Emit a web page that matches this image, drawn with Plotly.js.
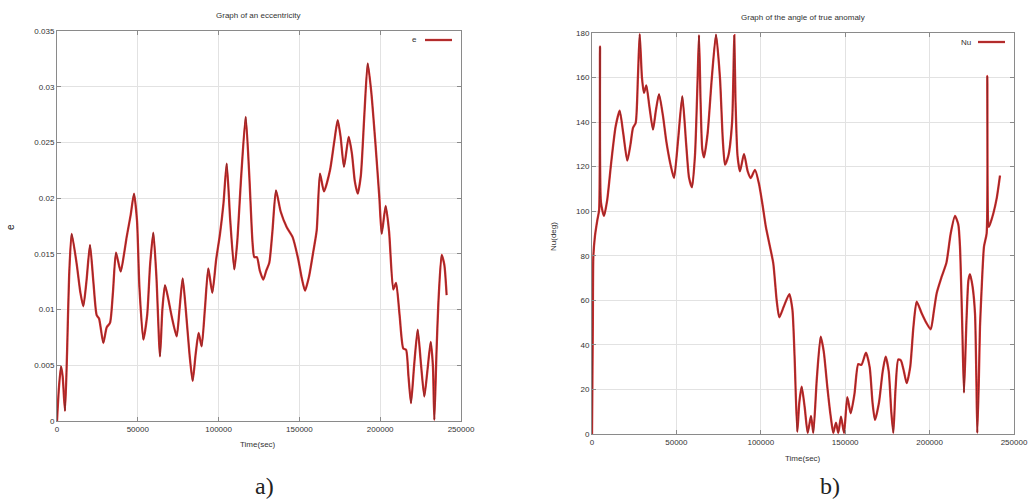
<!DOCTYPE html>
<html>
<head>
<meta charset="utf-8">
<script src="https://cdn.plot.ly/plotly-3.0.1.min.js"></script>
<style>
  html, body { margin: 0; padding: 0; background: #ffffff; }
  #chart { width: 1035px; height: 504px; }
</style>
</head>
<body>
<div id="chart"></div>
<script>
// Orbital eccentricity over time
const eTime = [
  0, 1200, 2500, 3500, 4950, 6200, 7500, 9080, 12170, 14500, 16290, 18200, 20420,
  22500, 24540, 26000, 28670, 30730, 32800, 34600, 36510, 39400, 41500, 43100,
  45600, 47650, 49500, 51000, 53420, 55800, 57600, 59600, 61500, 63740, 65200,
  66830, 68800, 70960, 74050, 75800, 77760, 79700, 82000, 83940, 85800, 87650,
  89500, 91500, 93630, 96100, 98500, 100870, 103000, 105000, 107200, 109720,
  111500, 114000, 116760, 119000, 121000, 122100, 123700, 125500, 127660, 129500,
  131370, 133300, 135520, 138400, 142100, 145800, 149300, 151500, 153470, 156000,
  158600, 160700, 162750, 165200, 168930, 171500, 173700, 175500, 177600, 180500,
  182500, 184300, 186080, 188000, 190200, 192270, 194500, 197000, 199500, 200930,
  203400, 205500, 208100, 209800, 212000, 214300, 215970, 217500, 219060, 221000,
  223200, 225300, 227300, 229200, 231250, 232600, 233500, 234800, 236000, 238030,
  239700, 241100
];
const eValue = [
  0, 0.0030, 0.0049, 0.0040, 0.0009, 0.0060, 0.0130, 0.0168, 0.0141, 0.0115, 0.0103, 0.0125, 0.0158,
  0.0125, 0.0095, 0.0092, 0.0070, 0.0084, 0.0088, 0.0115, 0.0151, 0.0134, 0.0150, 0.0165,
  0.0185, 0.0204, 0.0180, 0.0120, 0.0073, 0.0095, 0.0140, 0.0169, 0.0130, 0.0058, 0.0100,
  0.0122, 0.0110, 0.0094, 0.0076, 0.0100, 0.0128, 0.0100, 0.0060, 0.0036, 0.0060, 0.0079,
  0.0067, 0.0100, 0.0137, 0.0115, 0.0145, 0.0168, 0.0195, 0.0231, 0.0180, 0.0136,
  0.0160, 0.0220, 0.0273, 0.0220, 0.0160, 0.0147, 0.0147, 0.0135, 0.0127, 0.0135,
  0.0142, 0.0170, 0.0207, 0.0188, 0.0174, 0.0165, 0.0145, 0.0128, 0.0117, 0.0130,
  0.0152, 0.0171, 0.0222, 0.0206, 0.0225, 0.0250, 0.0270, 0.0255, 0.0228, 0.0255,
  0.0240, 0.0215, 0.0204, 0.0220, 0.0275, 0.0321, 0.0295, 0.0250, 0.0200, 0.0168,
  0.0193, 0.0170, 0.0118, 0.0124, 0.0095, 0.0065, 0.0064, 0.0040, 0.0016, 0.0050,
  0.0082, 0.0050, 0.0022, 0.0045, 0.0071, 0.0050, 0.0001, 0.0060, 0.0106, 0.0149,
  0.0140, 0.0113
];

// Angle of true anomaly (degrees) over time
const nuTime = [
  0, 500, 790, 1780, 3160, 4200, 4740, 5300, 7110, 9000, 11450, 14000, 16400, 18500,
  20900, 22800, 24290, 25870, 27200, 28250, 29600, 30800, 32170, 34000, 36140, 37800,
  39690, 42000, 44020, 46500, 48580, 51000, 53500, 55800, 57500, 59240, 61000, 62600,
  63390, 64300, 65300, 66350, 68500, 71000, 73460, 75800, 77500, 78790, 80800, 83000,
  84000, 84300, 85000, 86200, 87680, 90050, 92200, 94010, 96560, 99000, 101000, 103000,
  105450, 107400, 109400, 110960, 113500, 116880, 118700, 120000, 121620, 122800,
  124220, 126000, 127780, 129740, 131100, 133200, 135480, 137300, 139400, 141400,
  142950, 144540, 145900, 147500, 149300, 151250, 153250, 155500, 157750, 159600,
  162300, 164500, 166200, 167650, 170000, 172200, 173970, 175800, 177300, 178500,
  179800, 181450, 183000, 184800, 186430, 188500, 190400, 192350, 195300, 198000,
  200650, 202500, 204200, 207150, 210000, 212500, 215040, 217000, 218000, 219300,
  220370, 221800, 223000, 223930, 225500, 226890, 227700, 228260, 229200, 229850,
  231000, 232220, 233800, 234200, 234700, 235200, 237750, 239800, 241700
];
const nuValue = [
  0, 50, 79.6, 89, 96, 100.5, 174, 104, 97.9, 105, 122.4, 138, 145.1, 135,
  122.7, 130, 137.4, 139.6, 160, 179.5, 160, 153.1, 156.5, 147, 136.6, 145,
  152.6, 143, 131.4, 121, 114.9, 132, 151.6, 130, 115, 110.7, 125, 160,
  179, 150, 128, 124.2, 135, 160, 179.3, 160, 132, 120.9, 125, 140,
  170, 179, 150, 125, 117.9, 125.7, 118, 114.9, 118.6, 112, 103, 93,
  84, 76.6, 60, 52.4, 57, 62.8, 56, 35, 1, 14,
  21.2, 12, 0.5, 8.1, 0.5, 25, 43.7, 37, 21.2, 8,
  0.5, 5.1, 0.5, 7.8, 0.5, 16.5, 9.3, 18, 31.4, 31,
  36.5, 30, 14, 6.3, 14, 28, 34.7, 28, 10, 0.5,
  20, 33.5, 33, 28, 22.8, 30, 48, 59.4, 54.2, 50,
  47, 55, 63.2, 70.6, 77, 90, 97.9, 94, 84.1, 50,
  18.6, 50, 69, 71.8, 66, 54.2, 25, 0.5, 25, 48.2,
  68, 84.1, 90.1, 160.7, 94.6, 93, 99, 106, 116
];

const eTicks = [0, 0.005, 0.01, 0.015, 0.02, 0.025, 0.03, 0.035];
const eTickText = ['0', '0.005', '0.01', '0.015', '0.02', '0.025', '0.03', '0.035'];
const nuTicks = [0, 20, 40, 60, 80, 100, 120, 140, 160, 180];
const timeTicks = [0, 50000, 100000, 150000, 200000, 250000];

const RED = 'rgb(220,48,48)';
const CORE = 'rgb(128,40,40)';
const W = 1035, H = 504;
const px = v => v / W;
const py = v => 1 - v / H;

function curve(x, y, xa, ya, color, width) {
  return {
    type: 'scatter', mode: 'lines', x: x, y: y, xaxis: xa, yaxis: ya,
    line: { color: color, width: width, shape: 'spline', smoothing: 0.6 },
    showlegend: false, hoverinfo: 'skip'
  };
}

const data = [
  curve(eTime, eValue, 'x', 'y', RED, 2.3),
  curve(eTime, eValue, 'x', 'y', CORE, 0.9),
  curve(nuTime, nuValue, 'x2', 'y2', RED, 2.3),
  curve(nuTime, nuValue, 'x2', 'y2', CORE, 0.9)
];

const tickFont = { family: 'Liberation Sans, Arial, sans-serif', size: 8, color: '#333' };
const axisBase = {
  showgrid: true, gridcolor: '#e2e2e2', gridwidth: 1,
  zeroline: false, showline: true, linecolor: '#8a8a8a', linewidth: 1,
  mirror: 'ticks', ticks: 'inside', ticklen: 4, tickcolor: '#8a8a8a',
  tickfont: tickFont, fixedrange: true
};

const layout = {
  width: W, height: H,
  margin: { l: 0, r: 0, t: 0, b: 0 },
  paper_bgcolor: '#ffffff', plot_bgcolor: '#ffffff',
  showlegend: false,
  xaxis: Object.assign({}, axisBase, {
    domain: [px(57), px(461)], range: [0, 250000],
    tickvals: timeTicks, ticktext: timeTicks.map(String), anchor: 'y'
  }),
  yaxis: Object.assign({}, axisBase, {
    domain: [py(421), py(31)], range: [0, 0.035],
    tickvals: eTicks, ticktext: eTickText, anchor: 'x'
  }),
  xaxis2: Object.assign({}, axisBase, {
    domain: [px(592), px(1014)], range: [0, 250000],
    tickvals: timeTicks, ticktext: timeTicks.map(String), anchor: 'y2'
  }),
  yaxis2: Object.assign({}, axisBase, {
    domain: [py(434), py(33)], range: [0, 180],
    tickvals: nuTicks, ticktext: nuTicks.map(String), anchor: 'x2'
  }),
  annotations: [
    { text: 'Graph of an eccentricity', x: px(258), y: py(15) },
    { text: 'Graph of the angle of true anomaly', x: px(803), y: py(18) },
    { text: 'Time(sec)', x: px(258), y: py(444) },
    { text: 'Time(sec)', x: px(803), y: py(458) },
    { text: 'e', x: px(11), y: py(227), textangle: -90, font: { family: 'Liberation Sans, Arial, sans-serif', size: 10, color: '#222' } },
    { text: 'Nu(deg)', x: px(553), y: py(237), textangle: -90 },
    { text: 'e', x: px(419), y: py(40), xanchor: 'right' },
    { text: 'Nu', x: px(973), y: py(42), xanchor: 'right' },
    { text: 'a)', x: px(264), y: py(486), font: { family: 'Liberation Serif, DejaVu Serif, serif', size: 24, color: '#222' } },
    { text: 'b)', x: px(830), y: py(486), font: { family: 'Liberation Serif, DejaVu Serif, serif', size: 24, color: '#222' } }
  ].map(a => Object.assign({
    xref: 'paper', yref: 'paper', showarrow: false,
    xanchor: 'center', yanchor: 'middle',
    font: { family: 'Liberation Sans, Arial, sans-serif', size: 8, color: '#333' }
  }, a)),
  shapes: [
    { type: 'line', xref: 'paper', yref: 'paper', x0: px(425), x1: px(452), y0: py(40), y1: py(40),
      line: { color: RED, width: 2.3 } },
    { type: 'line', xref: 'paper', yref: 'paper', x0: px(425), x1: px(452), y0: py(40), y1: py(40),
      line: { color: CORE, width: 0.9 } },
    { type: 'line', xref: 'paper', yref: 'paper', x0: px(978), x1: px(1005), y0: py(42), y1: py(42),
      line: { color: RED, width: 2.3 } },
    { type: 'line', xref: 'paper', yref: 'paper', x0: px(978), x1: px(1005), y0: py(42), y1: py(42),
      line: { color: CORE, width: 0.9 } }
  ]
};

Plotly.newPlot('chart', data, layout, { staticPlot: true, displayModeBar: false });
</script>
</body>
</html>
